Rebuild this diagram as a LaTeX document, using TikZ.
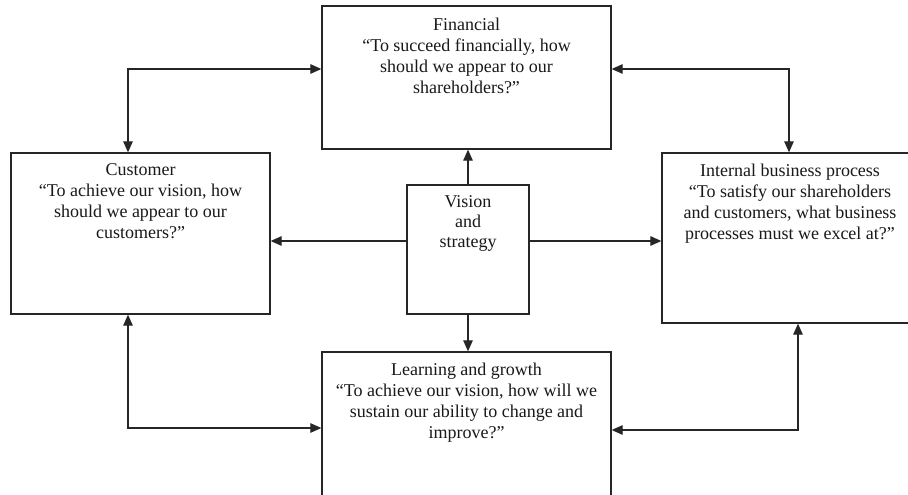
\documentclass[tikz,border=0pt]{standalone}
\usepackage{fontspec}
\setmainfont{Liberation Serif}
\usetikzlibrary{arrows.meta}
\begin{document}
\begin{tikzpicture}[x=1pt,y=-1pt,
  box/.style={draw=black!85, line width=1.3pt, rectangle, inner sep=0pt, fill=white},
  txt/.style={align=center, inner sep=0pt, anchor=north, font=\fontsize{18}{21}\selectfont, text=black!90},
  conn/.style={draw=black!85, line width=1.2pt, -{Triangle[length=11pt,width=9.5pt]}},
  conn2/.style={draw=black!85, line width=1.2pt, {Triangle[length=11pt,width=9.5pt]}-{Triangle[length=11pt,width=9.5pt]}}]
\fill[white] (0,0) rectangle (908,495);
\useasboundingbox (0,0) rectangle (908,495);
\node[box, minimum width=289pt, minimum height=143pt] (fin) at (466.5,77.5) {};
\node[box, minimum width=259pt, minimum height=161pt] (cust) at (140.5,233.5) {};
\node[box, minimum width=256pt, minimum height=170pt] (intl) at (790,238) {};
\node[box, minimum width=122pt, minimum height=129pt] (vis) at (468,249.5) {};
\node[box, minimum width=289pt, minimum height=168pt] (learn) at (466.5,436) {};
\node[txt] (fint) at (466.5,17.7) {Financial\\“To succeed financially, how\\should we appear to our\\shareholders?”};
\node[txt] (custt) at (140.5,163.7) {Customer\\“To achieve our vision, how\\should we appear to our\\customers?”};
\node[txt] (intlt) at (790,163.7) {Internal business process\\“To satisfy our shareholders\\and customers, what business\\processes must we excel at?”};
\node[txt, font=\fontsize{18}{20}\selectfont] (vist) at (468,195.7) {Vision\\and\\strategy};
\node[txt] (learnt) at (466.5,362.7) {Learning and growth\\“To achieve our vision, how will we\\sustain our ability to change and\\improve?”};
\coordinate (vy) at (468,241);
\coordinate (fc) at (128,69);
\coordinate (fi) at (789,69);
\coordinate (cl) at (128,428);
\coordinate (il) at (798,430);
\draw[conn] (vis.north) -- (vis.north |- fin.south);
\draw[conn] (vis.south) -- (vis.south |- learn.north);
\draw[conn] (vy -| vis.west) -- (vy -| cust.east);
\draw[conn] (vy -| vis.east) -- (vy -| intl.west);
\draw[conn2] (fc |- cust.north) -- (fc) -- (fc -| fin.west);
\draw[conn2] (fi -| fin.east) -- (fi) -- (fi |- intl.north);
\draw[conn2] (cl |- cust.south) -- (cl) -- (cl -| learn.west);
\draw[conn2] (il |- intl.south) -- (il) -- (il -| learn.east);
\end{tikzpicture}
\end{document}
